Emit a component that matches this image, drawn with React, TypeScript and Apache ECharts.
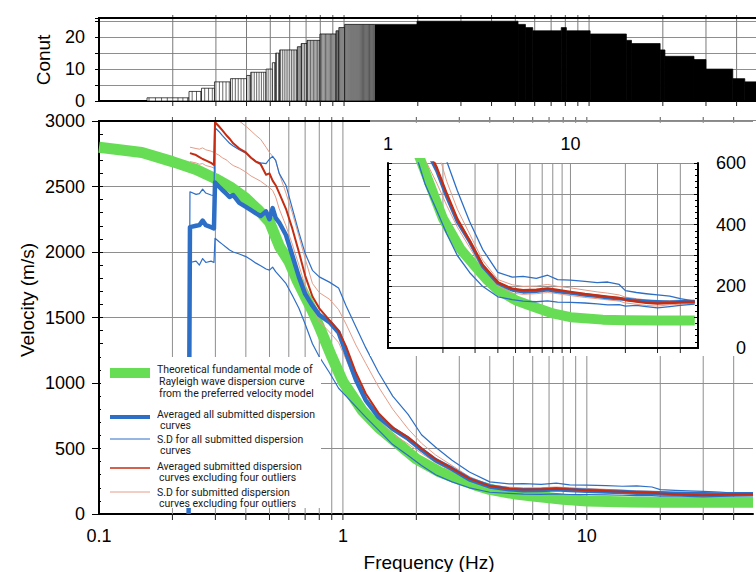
import React, { useEffect, useRef } from 'react';
import * as echarts from 'echarts';

// ---------- data ----------
// Histogram (top panel): step segments [start, end) in Hz with count
const HIST_START = [0.157, 0.233, 0.262, 0.296, 0.344, 0.401, 0.416, 0.481, 0.51, 0.526, 0.546, 0.645, 0.669, 0.706, 0.798, 0.928, 0.952, 1.006, 1.985, 5.13, 5.5, 5.89, 7.7, 8.08, 10.1, 14.2, 14.9, 19.5, 20.4, 26.8, 30.0, 38.6, 43.2];
const HIST_END = [0.233, 0.262, 0.296, 0.344, 0.401, 0.416, 0.481, 0.51, 0.526, 0.546, 0.645, 0.669, 0.706, 0.798, 0.928, 0.952, 1.006, 1.985, 5.13, 5.5, 5.89, 7.7, 8.08, 10.1, 14.2, 14.9, 19.5, 20.4, 26.8, 30.0, 38.6, 43.2, 48];
const HIST_COUNT = [1, 3, 4, 6, 7, 8, 9, 10, 12, 15, 16, 17, 18, 19, 21, 22, 23, 24, 25, 24, 23, 22, 23, 22, 21, 19, 18, 16, 14, 13, 10, 7, 6];

// Theoretical fundamental mode
const GREEN_F = [0.1, 0.15, 0.2, 0.25, 0.3, 0.35, 0.4, 0.45, 0.5, 0.55, 0.6, 0.65, 0.7, 0.75, 0.8, 0.9, 1.0, 1.2, 1.4, 1.6, 1.8, 2.0, 2.5, 3.0, 3.5, 4.0, 5.0, 6.0, 8.0, 10, 15, 20, 30, 48];
const GREEN_V = [2800, 2760, 2690, 2630, 2560, 2490, 2410, 2320, 2230, 2040, 1930, 1780, 1660, 1550, 1430, 1200, 1010, 790, 660, 570, 490, 420, 320, 265, 220, 188, 155, 138, 112, 100, 92, 90, 89, 89];

// Submitted curves (common frequency samples)
const CURVE_F = [0.233, 0.236, 0.25, 0.258, 0.266, 0.274, 0.288, 0.296, 0.299, 0.31, 0.32, 0.335, 0.343, 0.355, 0.376, 0.40, 0.42, 0.44, 0.46, 0.484, 0.50, 0.515, 0.53, 0.548, 0.584, 0.62, 0.66, 0.70, 0.75, 0.80, 0.88, 0.96, 1.03, 1.13, 1.24, 1.4, 1.6, 1.85, 2.1, 2.4, 2.8, 3.3, 4.0, 4.8, 5.5, 6.5, 7.5, 8.5, 10, 12, 14, 16, 18.5, 20, 23, 26, 30, 35, 40, 48];
const BLUE_AVG = [0, 2190, 2200, 2205, 2240, 2205, 2190, 2180, 2530, 2500, 2475, 2440, 2420, 2435, 2375, 2345, 2320, 2295, 2275, 2310, 2250, 2335, 2260, 2225, 2130, 1975, 1810, 1680, 1590, 1520, 1465, 1385, 1230, 1025, 870, 740, 650, 575, 490, 410, 345, 265, 210, 188, 182, 184, 189, 183, 178, 172, 168, 163, 160, 158, 154, 152, 150, 148, 150, 150];
const BLUE_UP = [0, 2460, 2440, 2445, 2480, 2450, 2435, 2430, 2950, 2920, 2890, 2850, 2830, 2810, 2780, 2755, 2720, 2690, 2680, 2675, 2710, 2730, 2700, 2600, 2510, 2335, 2150, 1990, 1860, 1810, 1770, 1725, 1590, 1430, 1270, 1080, 900, 760, 605, 510, 410, 320, 245, 230, 232, 226, 236, 222, 220, 216, 212, 214, 206, 186, 180, 176, 172, 168, 160, 152];
const BLUE_LO = [0, 1920, 1930, 1900, 1950, 1920, 1930, 1920, 2105, 2080, 2060, 2030, 2015, 2000, 1985, 1965, 1940, 1915, 1895, 1870, 1862, 1885, 1850, 1820, 1760, 1670, 1570, 1450, 1300, 1200, 1080, 960, 900, 820, 740, 640, 530, 446, 370, 300, 245, 200, 166, 157, 152, 150, 153, 149, 148, 146, 143, 140, 141, 136, 138, 134, 130, 134, 138, 142];
const RED_AVG = [null, 2755, 2740, 2725, 2710, 2700, 2680, 2665, 2990, 2960, 2930, 2885, 2865, 2830, 2790, 2760, 2720, 2690, 2670, 2590, 2600, 2545, 2510, 2450, 2330, 2180, 2000, 1820, 1660, 1570, 1480, 1400, 1280, 1080, 920, 770, 660, 585, 500, 418, 348, 270, 213, 192, 187, 189, 193, 188, 182, 175, 170, 166, 162, 156, 151, 147, 144, 146, 148, 150];
const RED_UP = [null, 2800, 2790, 2785, 2795, 2780, 2770, 2760, 3080, 3075, 3070, 3055, 3040, 3020, 3000, 2960, 2925, 2890, 2860, 2800, 2760, 2730, 2700, 2600, 2450, 2300, 2120, 1950, 1760, 1690, 1640, 1560, 1450, 1290, 1150, 970, 800, 650, 540, 450, 370, 285, 222, 205, 200, 201, 206, 200, 195, 188, 182, 178, 172, 165, 160, 156, 152, 154, 155, 156];
const RED_LO = [null, 2690, 2680, 2670, 2675, 2660, 2650, 2640, 2755, 2740, 2720, 2700, 2680, 2660, 2640, 2610, 2580, 2560, 2540, 2510, 2490, 2470, 2420, 2330, 2200, 2060, 1900, 1740, 1580, 1470, 1390, 1310, 1180, 1000, 860, 720, 610, 535, 462, 392, 326, 256, 202, 178, 174, 176, 180, 176, 170, 164, 160, 156, 152, 146, 142, 138, 136, 140, 142, 145];

// Grid frequencies
const MAIN_GRID_F = [0.2, 0.3, 0.4, 0.5, 0.6, 0.7, 0.8, 0.9, 1, 2, 3, 4, 5, 6, 7, 8, 9, 10, 20, 30, 40];
const INSET_GRID_F = [2, 3, 4, 5, 6, 7, 8, 9, 10, 20, 30, 40];

// Legend texts
const LEGEND_LINES = [
  'Theoretical fundamental mode of',
  'Rayleigh wave dispersion curve',
  'from the preferred velocity model',
  'Averaged all submitted dispersion',
  'curves',
  'S.D for all submitted dispersion',
  'curves',
  'Averaged submitted dispersion',
  'curves excluding four outliers',
  'S.D for submitted dispersion',
  'curves excluding four outliers',
];

// ---------- styles ----------
const FONT = "'Liberation Sans', Arial, Helvetica, sans-serif";
const LEGEND_FONT = "Roboto, 'Liberation Sans', sans-serif";
const GREEN = '#66dd55';
const BLUE = '#2d6fc7';
const RED = '#c42d12';
const SALMON = '#e59c88';
const GRID_GRAY = '#8e8e8e';

const pairs = (f: number[], v: (number | null)[]) => f.map((x, i) => [x, v[i]]);

const decadeLabel = (v: number) => {
  const l = Math.log10(v);
  const r = Math.round(l);
  if (Math.abs(l - r) > 1e-6) return '';
  return r < 0 ? Math.pow(10, r).toFixed(-r) : String(Math.round(Math.pow(10, r)));
};

function vGrid(xi: number, yi: number, freqs: number[], z: number, tickDown: number, tickUp: number, color: string) {
  return {
    type: 'custom',
    xAxisIndex: xi,
    yAxisIndex: yi,
    z,
    silent: true,
    clip: false,
    data: freqs.map((f) => [f, 0]),
    encode: { x: 0, y: 1 },
    renderItem: (params: any, api: any) => {
      const cs = params.coordSys;
      const x = api.coord([api.value(0), 0])[0];
      const top = cs.y;
      const bottom = cs.y + cs.height;
      const children: any[] = [
        { type: 'line', shape: { x1: x, y1: top, x2: x, y2: bottom }, style: { stroke: color, lineWidth: 1 } },
      ];
      if (tickDown) children.push({ type: 'line', shape: { x1: x, y1: bottom, x2: x, y2: bottom + tickDown }, style: { stroke: '#222', lineWidth: 1 } });
      if (tickUp) children.push({ type: 'line', shape: { x1: x, y1: top - tickUp, x2: x, y2: top }, style: { stroke: '#555', lineWidth: 1 } });
      return { type: 'group', children };
    },
  };
}

function lineSeries(name: string, xi: number, yi: number, data: any[], color: string, width: number, z: number) {
  return {
    name,
    type: 'line',
    xAxisIndex: xi,
    yAxisIndex: yi,
    data,
    symbol: 'none',
    showSymbol: false,
    silent: true,
    z,
    clip: true,
    lineStyle: { color, width, cap: 'butt', join: 'round' },
  };
}

export default function App() {
  const ref = useRef<HTMLDivElement>(null);
  useEffect(() => {
    if (!ref.current) return;
    const chart = echarts.init(ref.current, undefined, { renderer: 'svg' });

    const green = pairs(GREEN_F, GREEN_V);
    const bAvg = pairs(CURVE_F, BLUE_AVG);
    const bUp = pairs(CURVE_F, BLUE_UP);
    const bLo = pairs(CURVE_F, BLUE_LO);
    const rAvg = pairs(CURVE_F, RED_AVG);
    const rUp = pairs(CURVE_F, RED_UP);
    const rLo = pairs(CURVE_F, RED_LO);

    const histData = HIST_START.map((s, i) => [s, HIST_END[i], HIST_COUNT[i]]);

    const axisText = { color: '#000', fontSize: 18, fontFamily: FONT };
    const blackLine = { show: true, lineStyle: { color: '#000', width: 2 } };
    const plain = (v: number) => String(v);

    const legendSamples = [
      { y: 373, color: GREEN, w: 10 },
      { y: 417, color: BLUE, w: 4 },
      { y: 439, color: BLUE, w: 1 },
      { y: 468, color: RED, w: 1.6 },
      { y: 492, color: SALMON, w: 1 },
    ];
    const legendTextPos = [
      [157, 369], [159, 381], [159, 393],
      [157, 414], [160, 425.5],
      [157, 439], [160, 450.5],
      [157, 466], [159, 477.5],
      [157, 492], [159, 503.5],
    ];

    const graphic: any[] = [
      // inset white background
      { type: 'rect', z: 40, shape: { x: 370, y: 123, width: 386, height: 233 }, style: { fill: '#fff' } },
      // legend white background
      { type: 'rect', z: 40, shape: { x: 101, y: 357, width: 220, height: 151 }, style: { fill: '#fff' } },
      // top borders
      { type: 'line', z: 42, shape: { x1: 98, y1: 18, x2: 756, y2: 18 }, style: { stroke: '#000', lineWidth: 2 } },
      { type: 'line', z: 42, shape: { x1: 98, y1: 121, x2: 370, y2: 121 }, style: { stroke: '#000', lineWidth: 2 } },
      { type: 'line', z: 42, shape: { x1: 370, y1: 120.5, x2: 756, y2: 120.5 }, style: { stroke: '#888', lineWidth: 1 } },
      // axis titles
      { type: 'text', z: 42, x: 43, y: 60, rotation: Math.PI / 2, style: { text: 'Conut', fill: '#000', fontSize: 19, fontFamily: FONT, align: 'center', verticalAlign: 'middle' } },
      { type: 'text', z: 42, x: 27, y: 300, rotation: Math.PI / 2, style: { text: 'Velocity (m/s)', fill: '#000', fontSize: 19, fontFamily: FONT, align: 'center', verticalAlign: 'middle' } },
      { type: 'text', z: 42, x: 429, y: 562, style: { text: 'Frequency (Hz)', fill: '#000', fontSize: 19, fontFamily: FONT, align: 'center', verticalAlign: 'middle' } },
      ...legendSamples.map((s) => ({ type: 'line', z: 41, shape: { x1: 110, y1: s.y, x2: 150, y2: s.y }, style: { stroke: s.color, lineWidth: s.w } })),
      ...LEGEND_LINES.map((t, i) => ({
        type: 'text', z: 41, x: legendTextPos[i][0], y: legendTextPos[i][1],
        style: { text: t, fill: '#1a1a1a', fontSize: 10.5, lineHeight: 10.5, fontFamily: LEGEND_FONT, align: 'left', verticalAlign: 'middle' },
      })),
    ];

    const option: any = {
      animation: false,
      backgroundColor: '#fff',
      grid: [
        { left: 99, right: 0, top: 18, height: 83 },
        { left: 99, right: 0, top: 121, height: 393 },
        { left: 388, width: 310, top: 163, height: 185, z: 45 },
      ],
      xAxis: [
        { gridIndex: 0, type: 'log', logBase: 10, min: 0.1, max: 48, position: 'bottom', axisLine: blackLine, axisTick: { show: false }, axisLabel: { show: false }, splitLine: { show: false } },
        { gridIndex: 1, type: 'log', logBase: 10, min: 0.1, max: 48, position: 'bottom', axisLine: blackLine, axisTick: { show: false }, axisLabel: { ...axisText, margin: 13, formatter: decadeLabel }, splitLine: { show: false } },
        { gridIndex: 2, type: 'log', logBase: 10, min: 1, max: 50, position: 'top', z: 55, axisLine: blackLine, axisTick: { show: false }, axisLabel: { ...axisText, margin: 10, formatter: decadeLabel }, splitLine: { show: false } },
        { gridIndex: 2, type: 'log', logBase: 10, min: 1, max: 50, position: 'bottom', z: 55, axisLine: blackLine, axisTick: { show: false }, axisLabel: { show: false }, splitLine: { show: false } },
      ],
      yAxis: [
        { gridIndex: 0, type: 'value', min: 0, max: 26, interval: 5, position: 'left', axisLine: blackLine, axisTick: { show: true, length: 4, lineStyle: { color: '#000' } }, axisLabel: { ...axisText, margin: 14, formatter: (v: number) => (v % 10 === 0 ? String(v) : '') }, splitLine: { show: true, lineStyle: { color: GRID_GRAY, width: 1 } } },
        { gridIndex: 1, type: 'value', min: 0, max: 3000, interval: 500, position: 'left', axisLine: blackLine, axisTick: { show: true, length: 7, lineStyle: { color: '#000' } }, axisLabel: { ...axisText, margin: 14, formatter: plain }, splitLine: { show: true, lineStyle: { color: GRID_GRAY, width: 1 } } },
        { gridIndex: 1, type: 'value', min: 0, max: 3000, interval: 100, position: 'left', axisLine: { show: false }, axisTick: { show: true, inside: true, length: 4, lineStyle: { color: '#000' } }, axisLabel: { show: false }, splitLine: { show: false } },
        { gridIndex: 2, type: 'value', min: 0, max: 600, interval: 100, position: 'right', z: 55, axisLine: blackLine, axisTick: { show: true, inside: true, length: 4, lineStyle: { color: '#000' } }, minorTick: { show: true, splitNumber: 5, length: 3, lineStyle: { color: '#000' } }, axisLabel: { ...axisText, align: 'right', margin: 48, formatter: (v: number) => (v % 200 === 0 ? String(v) : '') }, splitLine: { show: false } },
        { gridIndex: 2, type: 'value', min: 0, max: 600, interval: 100, position: 'left', z: 55, axisLine: blackLine, axisTick: { show: true, inside: true, length: 4, lineStyle: { color: '#000' } }, minorTick: { show: true, splitNumber: 5, length: 3, lineStyle: { color: '#000' } }, axisLabel: { show: false }, splitLine: { show: false } },
        { gridIndex: 2, type: 'value', min: 0, max: 600, interval: 100, position: 'left', z: 45, axisLine: { show: false }, axisTick: { show: false }, axisLabel: { show: false }, splitLine: { show: true, lineStyle: { color: GRID_GRAY, width: 1 } } },
      ],
      series: [
        vGrid(0, 0, MAIN_GRID_F, 1, 5, 3, '#7a7a7a'),
        {
          type: 'custom',
          name: 'Count',
          xAxisIndex: 0,
          yAxisIndex: 0,
          z: 3,
          silent: true,
          data: histData,
          encode: { x: [0, 1], y: 2 },
          renderItem: (params: any, api: any) => {
            const s = api.value(0) as number;
            const e = api.value(1) as number;
            const c = api.value(2) as number;
            const p0 = api.coord([s, 0]);
            const p1 = api.coord([e, c]);
            const x0 = p0[0], yb = p0[1], x1 = p1[0], yt = p1[1];
            const step = 0.01;
            const startSpacing = api.coord([s + step, 0])[0] - x0;
            const children: any[] = [
              { type: 'rect', shape: { x: x0, y: yt, width: x1 - x0, height: yb - yt }, style: { fill: startSpacing < 0.8 ? '#000' : '#fff', stroke: '#000', lineWidth: 0.7 } },
            ];
            if (startSpacing >= 0.8) {
              let k = Math.ceil(s / step + 1e-6);
              while (k * step < e) {
                const x = api.coord([k * step, 0])[0];
                const nx = api.coord([(k + 1) * step, 0])[0];
                if (nx - x < 0.8) {
                  children.push({ type: 'rect', shape: { x, y: yt, width: x1 - x, height: yb - yt }, style: { fill: '#000' } });
                  break;
                }
                children.push({ type: 'line', shape: { x1: x, y1: yt, x2: x, y2: yb }, style: { stroke: '#000', lineWidth: 0.6 } });
                k++;
              }
            }
            return { type: 'group', children };
          },
        },
        vGrid(1, 1, MAIN_GRID_F, 1, 6, 4, GRID_GRAY),
        lineSeries('Theoretical', 1, 1, green, GREEN, 11, 2),
        lineSeries('SD excl upper', 1, 1, rUp, SALMON, 1, 3),
        lineSeries('SD excl lower', 1, 1, rLo, SALMON, 1, 3),
        lineSeries('SD all upper', 1, 1, bUp, BLUE, 1.2, 4),
        lineSeries('SD all lower', 1, 1, bLo, BLUE, 1.2, 4),
        lineSeries('Averaged all', 1, 1, bAvg, BLUE, 4.5, 5),
        lineSeries('Averaged excl', 1, 1, rAvg, RED, 2, 6),

        vGrid(2, 3, INSET_GRID_F, 46, 5, 0, GRID_GRAY),
        lineSeries('Theoretical inset', 2, 3, green, GREEN, 10, 47),
        lineSeries('SD excl upper inset', 2, 3, rUp, SALMON, 1, 48),
        lineSeries('SD excl lower inset', 2, 3, rLo, SALMON, 1, 48),
        lineSeries('SD all upper inset', 2, 3, bUp, BLUE, 1.3, 49),
        lineSeries('SD all lower inset', 2, 3, bLo, BLUE, 1.3, 49),
        lineSeries('Averaged all inset', 2, 3, bAvg, BLUE, 3.5, 50),
        lineSeries('Averaged excl inset', 2, 3, rAvg, RED, 2.5, 51),
      ],
      graphic,
    };

    chart.setOption(option);
    return () => chart.dispose();
  }, []);

  return <div ref={ref} style={{ position: 'fixed', left: 0, top: 0, width: 756, height: 572 }} />;
}
